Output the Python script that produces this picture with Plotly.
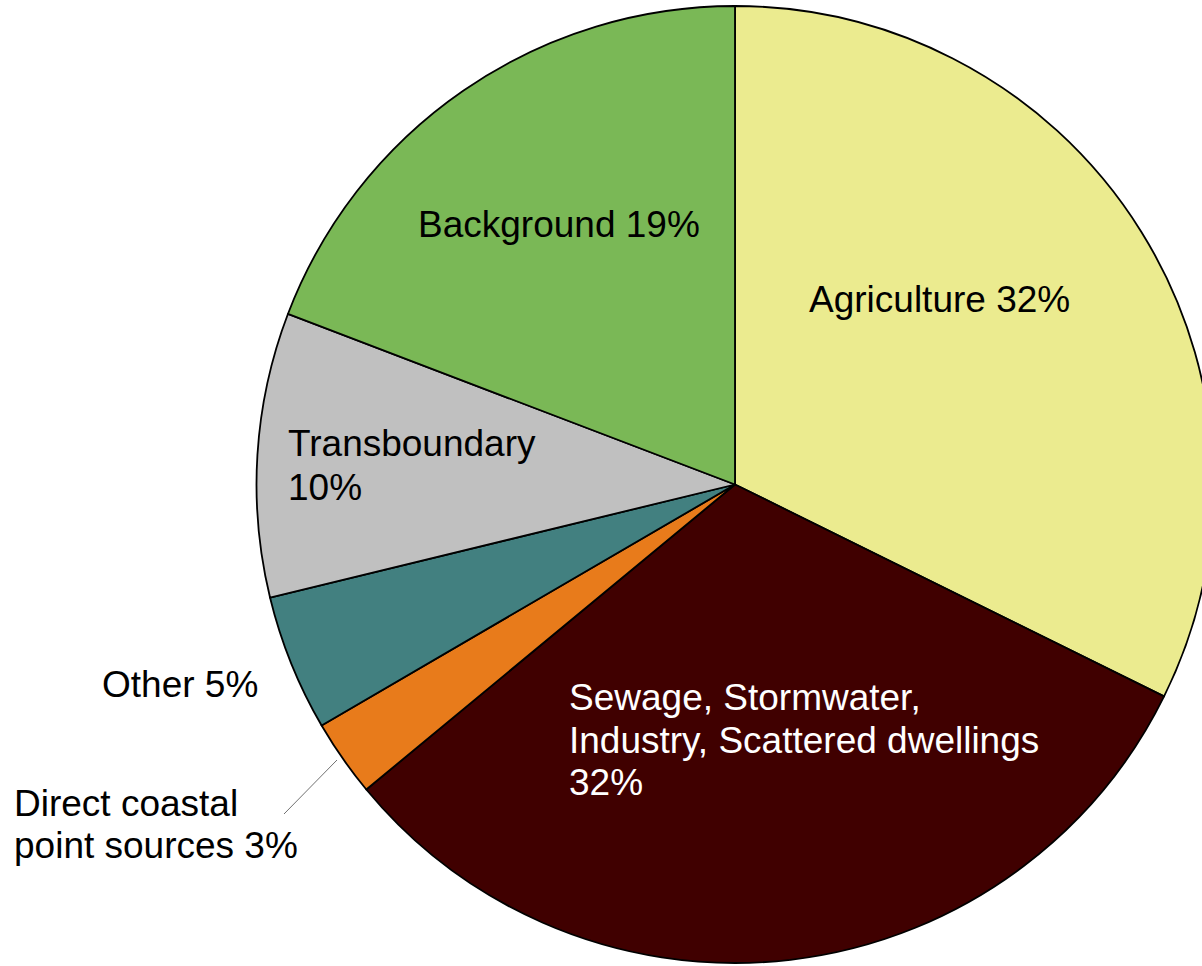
import plotly.graph_objects as go

labels = ["Agriculture", "Sewage, Stormwater, Industry, Scattered dwellings",
          "Direct coastal point sources", "Other", "Transboundary", "Background"]
values = [32.3, 31.7, 2.6, 4.6, 9.6, 19.2]
colors = ["#EBEB8F", "#400000", "#E87B1B", "#428080", "#C0C0C0", "#7AB856"]

W, H = 1214, 966

fig = go.Figure(go.Pie(
    labels=labels, values=values, sort=False, direction="clockwise", rotation=0,
    marker=dict(colors=colors, line=dict(color="black", width=1.8)),
    textinfo="none", hoverinfo="label+percent", showlegend=False,
    domain=dict(x=[256 / W, 1], y=[1 - 963 / H, 1 - 6 / H]),
))

FONT = "Liberation Sans, Arial, sans-serif"
FS = 37

def ann(text, x, y, anchor="center", color="black"):
    fig.add_annotation(text=text, x=x / W, y=1 - y / H, xref="paper", yref="paper",
                       xanchor=anchor, yanchor="middle", showarrow=False,
                       font=dict(family=FONT, size=FS, color=color))

ann("Background 19%", 559, 224)
ann("Agriculture 32%", 939, 300)
ann("Transboundary", 286, 443, "left")
ann("10%", 286, 487, "left")
ann("Sewage, Stormwater,", 567, 697, "left", "white")
ann("Industry, Scattered dwellings", 567, 740, "left", "white")
ann("32%", 567, 782, "left", "white")
ann("Other 5%", 100, 684, "left")
ann("Direct coastal", 12, 803, "left")
ann("point sources 3%", 12, 845, "left")

fig.add_shape(type="line", xref="paper", yref="paper",
              x0=337 / W, y0=1 - 760 / H, x1=284 / W, y1=1 - 814 / H,
              line=dict(color="#707070", width=1))

fig.update_layout(width=W, height=H, margin=dict(l=0, r=0, t=0, b=0),
                  paper_bgcolor="white", plot_bgcolor="white")

fig.write_html("out.html", config={"displayModeBar": False},
               post_script="document.body.style.margin='0';document.body.style.overflow='hidden';")
